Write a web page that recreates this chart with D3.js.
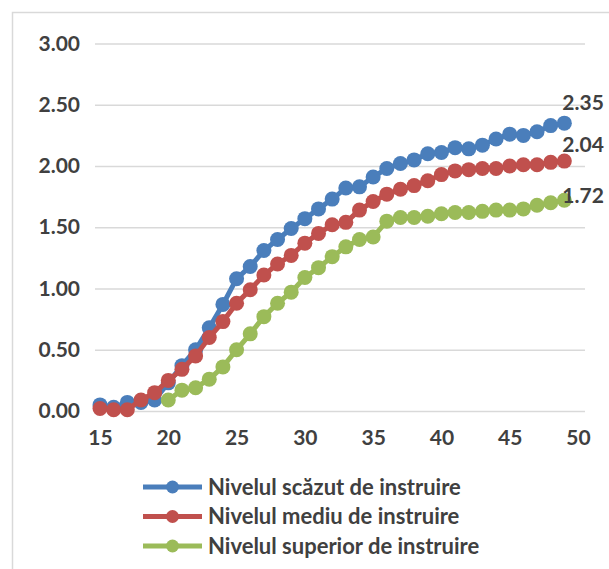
<!DOCTYPE html>
<html>
<head>
<meta charset="utf-8">
<script src="https://cdn.jsdelivr.net/npm/d3@7"></script>
<style>
  body { margin: 0; background: #fff; }
  text { font-family: Lato, "Open Sans", sans-serif; font-weight: bold; fill: #404040; }
</style>
</head>
<body>
<div id="chart"></div>
<script>
// ages on the x axis
var ages = [15,16,17,18,19,20,21,22,23,24,25,26,27,28,29,30,31,32,33,34,
            35,36,37,38,39,40,41,42,43,44,45,46,47,48,49];

var scazut = [0.05,0.03,0.07,0.07,0.09,0.23,0.37,0.50,0.68,0.87,
              1.08,1.18,1.31,1.40,1.49,1.57,1.65,1.73,1.82,1.83,
              1.91,1.98,2.02,2.05,2.10,2.11,2.15,2.14,2.17,2.22,
              2.26,2.25,2.28,2.33,2.35];

var mediu = [0.02,0.01,0.01,0.09,0.15,0.25,0.34,0.45,0.60,0.73,
             0.88,0.99,1.11,1.20,1.27,1.37,1.45,1.52,1.54,1.64,
             1.71,1.77,1.81,1.84,1.88,1.93,1.96,1.97,1.98,1.98,
             2.00,2.01,2.01,2.03,2.04];

var superior = [null,null,null,null,null,0.09,0.17,0.19,0.26,0.36,
                0.50,0.63,0.77,0.88,0.97,1.09,1.17,1.26,1.34,1.40,
                1.42,1.55,1.58,1.58,1.59,1.61,1.62,1.62,1.63,1.64,
                1.64,1.65,1.68,1.70,1.72];

var seriesNames = ["Nivelul scăzut de instruire", "Nivelul mediu de instruire", "Nivelul superior de instruire"];
var xTicks = [15,20,25,30,35,40,45,50];
var yTicks = [0,0.5,1,1.5,2,2.5,3];

var width = 609, height = 569;
var colors = ["#4A7EBB", "#C0504D", "#9BBB59"];
var labelDy = [-20, -16, -5];   // end labels were moved by hand in the original

var svg = d3.select("#chart").append("svg")
    .attr("width", width)
    .attr("height", height);

// chart border
svg.append("rect")
    .attr("x", 12.5).attr("y", 12.5)
    .attr("width", 640).attr("height", 640)
    .attr("fill", "none")
    .attr("stroke", "#d9d9d9")
    .attr("stroke-width", 1.5);

var x = d3.scaleLinear().domain([15, 50]).range([100, 578]);
var y = d3.scaleLinear().domain([0, 3]).range([411, 43.5]);

//Gridlines + y labels
var yAxis = svg.append("g")
    .attr("transform", "translate(95,0)")
    .call(d3.axisLeft(y).tickValues(yTicks)
        .tickSize(-490).tickPadding(15)
        .tickFormat(d3.format(".2f")));
yAxis.select(".domain").remove();
yAxis.selectAll("line").attr("stroke", "#d9d9d9").attr("stroke-width", 1.5);
yAxis.selectAll("text").style("font-size", "21px").attr("fill", "#404040");

var xAxis = svg.append("g")
    .attr("transform", "translate(0,418)")
    .call(d3.axisBottom(x).tickValues(xTicks).tickSize(0).tickPadding(12));
xAxis.select(".domain").remove();
xAxis.selectAll("text").style("font-size", "21px").attr("fill", "#404040");

var allSeries = [scazut, mediu, superior];

var line = d3.line()
    .defined(function(d) { return d.v !== null; })
    .x(function(d) { return x(d.a); })
    .y(function(d) { return y(d.v); });

allSeries.forEach(function(values, i) {
    var pts = ages.map(function(a, j) { return {a: a, v: values[j]}; });
    var g = svg.append("g");
    g.append("path")
        .datum(pts)
        .attr("d", line)
        .attr("fill", "none")
        .attr("stroke", colors[i])
        .attr("stroke-width", 5);
    g.selectAll("circle")
        .data(pts.filter(function(d) { return d.v !== null; }))
        .enter().append("circle")
        .attr("cx", function(d) { return x(d.a); })
        .attr("cy", function(d) { return y(d.v); })
        .attr("r", 7.5)
        .attr("fill", colors[i]);

    //label on last point
    var last = pts[pts.length - 1];
    svg.append("text")
        .attr("x", x(last.a) - 2)
        .attr("y", y(last.v) + labelDy[i])
        .attr("dy", "0.35em")
        .style("font-size", "21px")
        .text(d3.format(".2f")(last.v));
});

// legend
var legend = svg.append("g").selectAll("g")
    .data(seriesNames)
    .enter().append("g")
    .attr("transform", function(d, i) { return "translate(0," + (487 + i * 29.5) + ")"; });
legend.append("line")
    .attr("x1", 143).attr("x2", 202)
    .attr("stroke", function(d, i) { return colors[i]; })
    .attr("stroke-width", 5);
legend.append("circle")
    .attr("cx", 172.5).attr("r", 6.5)
    .attr("fill", function(d, i) { return colors[i]; });
legend.append("text")
    .attr("x", 208)
    .attr("dy", "0.35em")
    .style("font-size", "22px")
    .text(function(d) { return d; });
</script>
</body>
</html>
